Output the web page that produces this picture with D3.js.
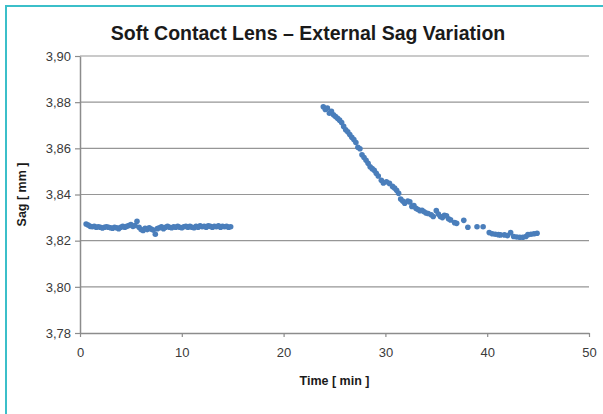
<!DOCTYPE html>
<html>
<head>
<meta charset="utf-8">
<script src="https://cdn.jsdelivr.net/npm/d3@7"></script>
<style>
  body { margin: 0; background: #fff; }
  svg { display: block; }
  .tick text { font-family: "Liberation Sans", Arial, sans-serif; font-size: 13px; fill: #3a3a3a; }
</style>
</head>
<body>
<div id="chart"></div>
<script>
// first run (lens at rest)
var time1 = [0.6, 0.8, 1.0, 1.2, 1.4, 1.6, 1.8, 2.0, 2.2, 2.4, 2.6, 2.8, 3.0, 3.2, 3.4, 3.6, 3.8, 4.0,
  4.2, 4.4, 4.6, 4.8, 5.0, 5.2, 5.4, 5.6, 5.8, 6.0, 6.2, 6.4, 6.6, 6.8, 7.0, 7.2, 7.4, 7.6, 7.8, 8.0,
  8.2, 8.4, 8.6, 8.8, 9.0, 9.2, 9.4, 9.6, 9.8, 10.0, 10.2, 10.4, 10.6, 10.8, 11.0, 11.2, 11.4, 11.6,
  11.8, 12.0, 12.2, 12.4, 12.6, 12.8, 13.0, 13.2, 13.4, 13.6, 13.8, 14.0, 14.2, 14.4, 14.6, 14.8];
var sag1 = [3.8272, 3.8268, 3.8262, 3.8260, 3.8262, 3.8258, 3.8260, 3.8258, 3.8255, 3.8258, 3.8260,
  3.8258, 3.8256, 3.8254, 3.8258, 3.8256, 3.8252, 3.8258, 3.8262, 3.8258, 3.8262, 3.8266, 3.8270,
  3.8262, 3.8266, 3.8284, 3.8258, 3.8248, 3.8244, 3.8254, 3.8248, 3.8256, 3.8250, 3.8246, 3.8228,
  3.8252, 3.8256, 3.8260, 3.8252, 3.8258, 3.8262, 3.8258, 3.8256, 3.8260, 3.8258, 3.8262, 3.8258,
  3.8256, 3.8260, 3.8262, 3.8258, 3.8262, 3.8258, 3.8256, 3.8262, 3.8258, 3.8264, 3.8260, 3.8262,
  3.8258, 3.8264, 3.8262, 3.8258, 3.8262, 3.8260, 3.8264, 3.8258, 3.8262, 3.8260, 3.8262, 3.8258, 3.8260];

// second run (drying)
var time2 = [23.9, 24.1, 24.3, 24.5, 24.7, 24.9, 25.1, 25.3, 25.5, 25.7, 25.9, 26.1, 26.3, 26.5, 26.7,
  26.9, 27.1, 27.3, 27.5, 27.7, 27.9, 28.1, 28.3, 28.5, 28.7, 28.9, 29.1, 29.3, 29.6, 29.8, 30.1, 30.4,
  30.7, 30.9, 31.1, 31.3, 31.5, 31.7, 31.9, 32.2, 32.4, 32.6, 32.8, 33.0, 33.2, 33.4, 33.6, 33.8, 34.0,
  34.2, 34.5, 34.7, 35.0, 35.2, 35.4, 35.6, 35.8, 36.0, 36.2, 36.4, 36.8, 37.0, 37.7, 38.1, 39.0, 39.6,
  40.2, 40.5, 40.8, 41.1, 41.3, 41.7, 42.0, 42.3, 42.6, 42.9, 43.2, 43.5, 43.8, 44.0, 44.3, 44.6, 44.9];
var sag2 = [3.8780, 3.8768, 3.8774, 3.8752, 3.8760, 3.8745, 3.8738, 3.8730, 3.8722, 3.8712, 3.8695,
  3.8680, 3.8672, 3.8660, 3.8648, 3.8638, 3.8625, 3.8605, 3.8598, 3.8572, 3.8560, 3.8548, 3.8535,
  3.8520, 3.8512, 3.8505, 3.8492, 3.8480, 3.8462, 3.8450, 3.8455, 3.8448, 3.8435, 3.8428, 3.8418,
  3.8405, 3.8380, 3.8372, 3.8362, 3.8372, 3.8368, 3.8348, 3.8352, 3.8340, 3.8335, 3.8330, 3.8332,
  3.8325, 3.8320, 3.8318, 3.8312, 3.8305, 3.8330, 3.8315, 3.8305, 3.8300, 3.8310, 3.8308, 3.8295,
  3.8290, 3.8278, 3.8275, 3.8288, 3.8258, 3.8260, 3.8260, 3.8235, 3.8230, 3.8228, 3.8226, 3.8225,
  3.8225, 3.8222, 3.8235, 3.8218, 3.8216, 3.8215, 3.8215, 3.8218, 3.8226, 3.8228, 3.8230, 3.8232];

var xTicks = [0, 10, 20, 30, 40, 50];
var yTicks = [3.78, 3.80, 3.82, 3.84, 3.86, 3.88, 3.90];

var title = "Soft Contact Lens \u2013 External Sag Variation";
var xTitle = "Time [ min ]";
var yTitle = "Sag [ mm ]";

var width = 603, height = 414;
var margin = { top: 56, right: 14, bottom: 81, left: 80 };
var plotW = width - margin.left - margin.right;
var plotH = height - margin.top - margin.bottom;

var locale = d3.formatLocale({ decimal: ",", thousands: ".", grouping: [3], currency: ["", ""] });
var fmt = locale.format(".2f");

var svg = d3.select("#chart").append("svg")
  .attr("width", width)
  .attr("height", height);

// frame
svg.append("path")
  .attr("d", "M6," + height + "V6H" + width)
  .attr("fill", "none")
  .attr("stroke", "#3bbfc9")
  .attr("stroke-width", 2);

var g = svg.append("g")
  .attr("transform", "translate(" + margin.left + "," + margin.top + ")");

var x = d3.scaleLinear().domain([0, 50]).range([0, plotW]);
var y = d3.scaleLinear().domain([3.78, 3.90]).range([plotH, 0]);

// gridlines
g.selectAll(".grid")
  .data(yTicks.slice(1))
  .enter().append("line")
  .attr("class", "grid")
  .attr("x1", 0).attr("x2", plotW)
  .attr("y1", function(d) { return y(d); })
  .attr("y2", function(d) { return y(d); })
  .attr("stroke", "#969696")
  .attr("stroke-width", 1.2);

var yAxis = g.append("g")
  .call(d3.axisLeft(y).tickValues(yTicks).tickFormat(fmt).tickSize(5).tickSizeOuter(0).tickPadding(4));
var xAxis = g.append("g")
  .attr("transform", "translate(0," + plotH + ")")
  .call(d3.axisBottom(x).tickValues(xTicks).tickSize(4).tickSizeOuter(0).tickPadding(11));

[yAxis, xAxis].forEach(function(a) {
  a.select(".domain").attr("stroke", "#8c8c8c").attr("stroke-width", 1.5);
  a.selectAll(".tick line").attr("stroke", "#8c8c8c").attr("stroke-width", 1.2);
});

// points
var pts = time1.map(function(t, i) { return [t, sag1[i]]; })
  .concat(time2.map(function(t, i) { return [t, sag2[i]]; }));

g.selectAll(".pt")
  .data(pts)
  .enter().append("circle")
  .attr("class", "pt")
  .attr("cx", function(d) { return x(d[0]); })
  .attr("cy", function(d) { return y(d[1]); })
  .attr("r", 2.8)
  .attr("fill", "#4a7ebb");

// titles
svg.append("text")
  .attr("x", 308).attr("y", 40)
  .attr("text-anchor", "middle")
  .style("font-family", "Liberation Sans, Arial, sans-serif")
  .style("font-weight", "bold")
  .style("font-size", "19.5px")
  .attr("fill", "#1a1a1a")
  .text(title);

svg.append("text")
  .attr("x", margin.left + plotW / 2).attr("y", 385)
  .attr("text-anchor", "middle")
  .style("font-family", "Liberation Sans, Arial, sans-serif")
  .style("font-weight", "bold")
  .style("font-size", "12.5px")
  .attr("fill", "#1a1a1a")
  .text(xTitle);

svg.append("text")
  .attr("transform", "translate(26," + (margin.top + plotH / 2) + ") rotate(-90)")
  .attr("text-anchor", "middle")
  .style("font-family", "Liberation Sans, Arial, sans-serif")
  .style("font-weight", "bold")
  .style("font-size", "12.5px")
  .attr("fill", "#1a1a1a")
  .text(yTitle);
</script>
</body>
</html>
